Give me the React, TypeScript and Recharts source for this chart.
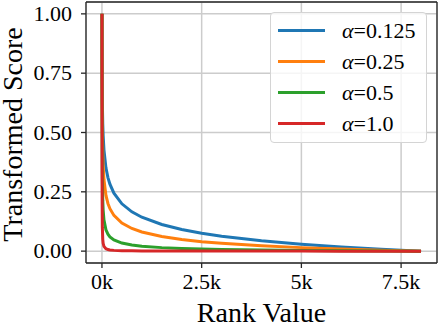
import React from 'react';
import { LineChart, Line, XAxis, YAxis, CartesianGrid, Legend, ReferenceLine, Label } from 'recharts';

// rank positions sampled along the x axis
const ranks = [1, 2, 3, 5, 10, 20, 30, 50, 100, 150, 200, 300, 500, 750, 1000, 1500, 2000, 2500, 3000, 4000, 5000, 6000, 7000, 8000];

const alpha0125 = [1.0, 0.877, 0.81, 0.73, 0.629, 0.537, 0.487, 0.427, 0.351, 0.31, 0.282, 0.2445, 0.1995, 0.1658, 0.143, 0.1122, 0.0911, 0.0754, 0.0628, 0.0436, 0.0292, 0.0176, 0.008, 0];
const alpha025 = [1.0, 0.822, 0.731, 0.63, 0.511, 0.411, 0.36, 0.302, 0.235, 0.201, 0.179, 0.1505, 0.1183, 0.0955, 0.0806, 0.0615, 0.0491, 0.0399, 0.0329, 0.0224, 0.0148, 0.0088, 0.004, 0];
const alpha05 = [1.0, 0.704, 0.573, 0.441, 0.3085, 0.2148, 0.173, 0.1317, 0.0898, 0.0713, 0.0602, 0.0471, 0.0339, 0.0256, 0.0207, 0.0148, 0.0113, 0.0089, 0.0072, 0.0047, 0.003, 0.0017, 0.0008, 0];
const alpha1 = [1.0, 0.5, 0.333, 0.2, 0.1, 0.05, 0.033, 0.02, 0.01, 0.0066, 0.0049, 0.0032, 0.0019, 0.0012, 0.0009, 0.0005, 0.0004, 0.0003, 0.0002, 0.0001, 0.0001, 0, 0, 0];

const xTicks = [0, 2500, 5000, 7500];
const xTickLabels = ['0k', '2.5k', '5k', '7.5k'];
const yTicks = [0, 0.25, 0.5, 0.75, 1.0];
const yTickLabels = ['0.00', '0.25', '0.50', '0.75', '1.00'];

const series = [
  { key: 'a0125', alpha: '0.125', color: '#1f77b4' },
  { key: 'a025', alpha: '0.25', color: '#ff7f0e' },
  { key: 'a05', alpha: '0.5', color: '#2ca02c' },
  { key: 'a1', alpha: '1.0', color: '#d62728' },
];

const data = ranks.map((r, i) => ({
  rank: r,
  a0125: alpha0125[i],
  a025: alpha025[i],
  a05: alpha05[i],
  a1: alpha1[i],
}));

const FONT = '"Liberation Serif", "Times New Roman", Times, serif';
const SPINE = '#262626';

const XTick = ({ x, y, payload }: any) => (
  <text x={x} y={y + 15} textAnchor="middle" fill="#000" style={{ fontFamily: FONT, fontSize: 22 }}>
    {xTickLabels[xTicks.indexOf(payload.value)]}
  </text>
);

const YTick = ({ x, y, payload }: any) => (
  <text x={x} y={y + 7} textAnchor="end" fill="#000" style={{ fontFamily: FONT, fontSize: 22 }}>
    {yTickLabels[yTicks.indexOf(payload.value)]}
  </text>
);

const LegendBox = () => (
  <div
    style={{
      width: 157,
      height: 131,
      boxSizing: 'border-box',
      border: '1px solid #d4d4d4',
      borderRadius: 4,
      background: 'rgba(255,255,255,0.8)',
      fontFamily: FONT,
      fontSize: 22,
      color: '#000',
      paddingTop: 2,
    }}
  >
    {series.map(s => (
      <div key={s.key} style={{ display: 'flex', alignItems: 'center', height: 31, paddingLeft: 7 }}>
        <div style={{ width: 47, height: 3, background: s.color }} />
        <span style={{ marginLeft: 17, whiteSpace: 'nowrap', fontFamily: FONT }}>
          <i>α</i>=<span>{s.alpha}</span>
        </span>
      </div>
    ))}
  </div>
);

const App: React.FC = () => {
  return (
    <div style={{ position: 'absolute', left: 0, top: 0, width: 439, height: 329, background: '#fff', fontFamily: FONT }}>
      <LineChart width={439} height={329} data={data} margin={{ top: 2, right: 2, left: 0, bottom: 0 }}>
        <CartesianGrid stroke="#cccccc" strokeWidth={1.5} />
        <XAxis
          dataKey="rank"
          type="number"
          domain={[-400, 8400]}
          ticks={xTicks}
          height={66}
          tickSize={5}
          tickMargin={6}
          stroke={SPINE}
          strokeWidth={1.3}
          tick={<XTick />}
          allowDataOverflow
        >
          <Label
            content={({ viewBox }: any) => (
              <text
                x={viewBox.x + viewBox.width / 2}
                y={viewBox.y + viewBox.height - 7}
                textAnchor="middle"
                fill="#000"
                style={{ fontFamily: FONT, fontSize: 28 }}
              >
                Rank Value
              </text>
            )}
          />
        </XAxis>
        <YAxis
          type="number"
          domain={[-0.05, 1.05]}
          ticks={yTicks}
          width={86}
          tickSize={5}
          tickMargin={9}
          stroke={SPINE}
          strokeWidth={1.3}
          tick={<YTick />}
          allowDataOverflow
        >
          <Label
            content={({ viewBox }: any) => {
              const cx = viewBox.x + 22;
              const cy = viewBox.y + viewBox.height / 2 + 2;
              return (
                <text
                  x={cx}
                  y={cy}
                  transform={`rotate(-90, ${cx}, ${cy})`}
                  textAnchor="middle"
                  fill="#000"
                  style={{ fontFamily: FONT, fontSize: 28 }}
                >
                  Transformed Score
                </text>
              );
            }}
          />
        </YAxis>
        <ReferenceLine x={8400} stroke={SPINE} strokeWidth={1.3} />
        <ReferenceLine y={1.05} stroke={SPINE} strokeWidth={1.3} />
        {series.map(s => (
          <Line
            key={s.key}
            type="linear"
            dataKey={s.key}
            stroke={s.color}
            strokeWidth={3}
            dot={false}
            activeDot={false}
            isAnimationActive={false}
          />
        ))}
        <Legend
          layout="vertical"
          align="center"
          verticalAlign="middle"
          content={() => <LegendBox />}
          wrapperStyle={{ position: 'absolute', top: 12, left: 270, width: 157, height: 131 }}
        />
      </LineChart>
    </div>
  );
};

export default App;
